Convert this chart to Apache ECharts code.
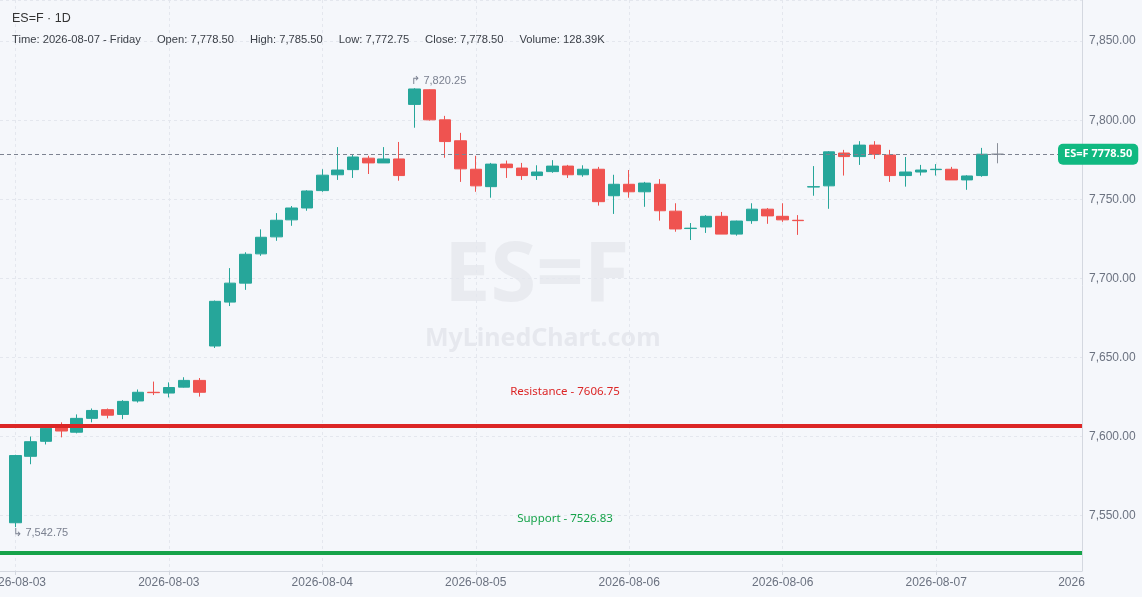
<!DOCTYPE html>
<html>
<head>
<meta charset="utf-8">
<script src="https://cdn.jsdelivr.net/npm/echarts@6/dist/echarts.min.js"></script>
<style>
  html, body { margin: 0; padding: 0; background: #f5f7fb; }
  #chart { width: 1142px; height: 597px; }
</style>
</head>
<body>
<div id="chart"></div>
<script>
// candles, one per bar
const open = [7545.5, 7587.5, 7597, 7606.5, 7602.75, 7611.5, 7617, 7614, 7622.5, 7628, 7627.5, 7631.25, 7635.5,
  7657.25, 7685, 7697, 7715.5, 7726.25, 7737, 7744.5, 7755.5, 7765.5, 7768.75, 7776, 7773, 7775.5,
  7810, 7819.25, 7800.25, 7787, 7769, 7758, 7772.25, 7769.75, 7765, 7767.5, 7771, 7765.5, 7769,
  7752.25, 7759.5, 7754.75, 7759.5, 7742.5, 7731.5, 7732.5, 7739.25, 7728, 7736.5, 7743.75, 7739.25, 7736.75,
  7757.75, 7758.5, 7779.25, 7777, 7784.25, 7778, 7765, 7767.25, 7768.75, 7769, 7762.25, 7765, 7778.5];
const close = [7588, 7596.75, 7605.25, 7603.5, 7611.5, 7616.5, 7613.5, 7622.25, 7628, 7627.75, 7631, 7635.5, 7628,
  7685.5, 7697, 7715.25, 7726, 7736.75, 7744.5, 7755.25, 7765.25, 7768.5, 7776.75, 7773, 7775.5, 7765,
  7819.75, 7800.25, 7786.5, 7769.25, 7758.5, 7772.25, 7770, 7765, 7767.25, 7771, 7765.5, 7769, 7748.5,
  7759.5, 7754.75, 7760.25, 7742.75, 7731.25, 7731.75, 7739.25, 7728, 7736.25, 7743.75, 7739.5, 7737, 7736.5,
  7758, 7780, 7777, 7784.25, 7778.5, 7765, 7767.25, 7768.5, 7769, 7762.25, 7764.75, 7778.5, 7778.5];
const low = [7542.75, 7582.5, 7595, 7599.5, 7602, 7609, 7611.5, 7611, 7621.5, 7626.25, 7624.75, 7631, 7625.25,
  7656, 7682.5, 7692.75, 7714.25, 7723.75, 7733.25, 7742.75, 7754.75, 7762.25, 7763.5, 7766, 7773, 7761.75,
  7795.25, 7799.75, 7776.25, 7761, 7754.75, 7751, 7763.5, 7762.25, 7762.25, 7766.75, 7763.5, 7764.25, 7746,
  7740.75, 7751, 7745.25, 7736.5, 7729.5, 7724.25, 7728.75, 7728, 7727, 7734.5, 7734.5, 7735.75, 7727.5,
  7752.25, 7744, 7765, 7771.75, 7775.5, 7761, 7758, 7765, 7765, 7762.25, 7756, 7764.25, 7772.75];
const high = [7588.5, 7600, 7606, 7609, 7614, 7617.75, 7617.75, 7623, 7629.75, 7634.75, 7634.25, 7637.5, 7637,
  7686, 7706.5, 7716.5, 7731, 7741.25, 7745.75, 7755.75, 7769, 7783, 7778, 7777.5, 7783, 7786.25,
  7820.25, 7819.5, 7802.75, 7792, 7777.5, 7773, 7774.5, 7773, 7771.5, 7774.75, 7771.75, 7771.5, 7770.5,
  7765.5, 7768.5, 7761, 7762.75, 7747.5, 7735, 7740, 7742, 7736.5, 7747.5, 7744.5, 7747.5, 7740,
  7771, 7780.5, 7781.25, 7786.75, 7786.75, 7781.25, 7776.75, 7771.75, 7772.25, 7770.5, 7765.25, 7782.5, 7785.5];

// x tick positions (bar index) and their labels
const tickIdx = [0, 10, 20, 30, 40, 50, 60];
const tickLabels = ['2026-08-03', '2026-08-03', '2026-08-04', '2026-08-05', '2026-08-06', '2026-08-06', '2026-08-07'];
const xEnd = 69.5;

const resistance = 7606.75;
const support = 7526.83;
const lastPrice = close[close.length - 1];
const hiIdx = 26, loIdx = 0;

const header = ['Time: 2026-08-07 - Friday', 'Open: 7,778.50', 'High: 7,785.50',
  'Low: 7,772.75', 'Close: 7,778.50', 'Volume: 128.39K'];

function fmt(v) {
  return v.toLocaleString('en-US', { minimumFractionDigits: 2, maximumFractionDigits: 2 });
}

const candles = open.map(function (o, i) { return [i, o, close[i], low[i], high[i]]; });

const chart = echarts.init(document.getElementById('chart'));
const font = 'Liberation Sans, Arial, sans-serif';

const option = {
  animation: false,
  backgroundColor: '#f5f7fb',
  textStyle: { fontFamily: font },
  title: [
    { text: 'ES=F · 1D', left: 12, top: 12, padding: 0,
      textStyle: { fontSize: 12.5, fontWeight: 'normal', color: '#333', fontFamily: font } },
    { text: header.map(function (h) { return '{a|' + h + '}'; }).join(''), left: 12, top: 34, padding: 0,
      textStyle: { fontWeight: 'normal',
        rich: { a: { fontSize: 11.2, fontWeight: 'normal', color: '#3a3f47', fontFamily: font, padding: [0, 16, 0, 0] } } } }
  ],
  graphic: [
    { type: 'text', left: 444, top: 236, silent: true, z: 0,
      style: { text: 'ES=F', font: 'bold 83px "Noto Sans"', fill: '#e9ebf0' } },
    { type: 'text', left: 425, top: 326, silent: true, z: 0,
      style: { text: 'MyLinedChart.com', font: 'bold 25px "Noto Sans"', fill: '#e6e8ee' } }
  ],
  grid: { left: 0, right: 60, top: 0, bottom: 26, outerBoundsMode: 'none', containLabel: false },
  xAxis: {
    type: 'value',
    min: -1,
    max: xEnd,
    axisLine: { show: true, onZero: false, lineStyle: { color: '#d4d8e0' } },
    axisTick: { show: true, length: 4, customValues: tickIdx, lineStyle: { color: '#d4d8e0' } },
    axisLabel: {
      customValues: tickIdx.concat([xEnd]),
      margin: 6,
      color: '#6b7280',
      fontSize: 12,
      formatter: function (v) {
        const k = tickIdx.indexOf(v);
        if (k >= 0) return tickLabels[k];
        return '{r|2026}';
      },
      rich: { r: { color: '#6b7280', fontSize: 12, padding: [0, 21, 0, 0] } }
    },
    splitLine: { show: true, lineStyle: { color: '#e4e7ee', type: [3, 3] } }
  },
  yAxis: {
    type: 'value',
    position: 'right',
    min: 7515,
    max: 7876,
    splitNumber: 7,
    scale: true,
    axisLine: { show: true, onZero: false, lineStyle: { color: '#d4d8e0' } },
    axisTick: { show: false },
    axisLabel: {
      showMinLabel: false, showMaxLabel: false,
      margin: 7, color: '#6b7280', fontSize: 12,
      formatter: fmt
    },
    splitLine: { show: true, lineStyle: { color: '#e4e7ee', type: [3, 3] } }
  },
  series: [{
    type: 'candlestick',
    data: candles,
    encode: { x: 0, y: [1, 2, 3, 4] },
    barWidth: 12,
    itemStyle: {
      color: '#26a69a', color0: '#ef5350',
      borderColor: '#26a69a', borderColor0: '#ef5350',
      borderColorDoji: '#8a8f99', borderWidth: 1
    },
    markLine: {
      silent: true,
      symbol: ['none', 'none'],
      data: [
        { yAxis: resistance,
          lineStyle: { color: '#dc2626', width: 4, type: 'solid' },
          label: { position: 'insideMiddleTop', distance: 28, padding: [0, 0, 0, 48],
            formatter: 'Resistance - ' + resistance, color: '#dc2626', fontSize: 11.5, fontFamily: 'Noto Sans' } },
        { yAxis: support,
          lineStyle: { color: '#16a34a', width: 4, type: 'solid' },
          label: { position: 'insideMiddleTop', distance: 28, padding: [0, 0, 0, 48],
            formatter: 'Support - ' + support, color: '#16a34a', fontSize: 11.5, fontFamily: 'Noto Sans' } },
        { yAxis: lastPrice,
          lineStyle: { color: '#7d8391', width: 1, type: [4, 3] },
          label: { position: 'end', distance: -24,
            formatter: 'ES=F ' + lastPrice.toFixed(2),
            color: '#fff', fontWeight: 'bold', fontSize: 11, fontFamily: 'Noto Sans',
            backgroundColor: '#10b981', borderRadius: 5, padding: [5, 6] } }
      ]
    },
    markPoint: {
      silent: true,
      symbol: 'circle',
      symbolSize: 0,
      data: [
        { coord: [hiIdx, high[hiIdx]],
          label: { position: [-3, -13], formatter: '↱ ' + fmt(high[hiIdx]), color: '#7b8190', fontSize: 11 } },
        { coord: [loIdx, low[loIdx]],
          label: { position: [-2, 0], formatter: '↳ ' + fmt(low[loIdx]), color: '#7b8190', fontSize: 11 } }
      ]
    }
  }]
};

chart.setOption(option);
window.addEventListener('resize', function () {
  chart.resize();
});
</script>
</body>
</html>
